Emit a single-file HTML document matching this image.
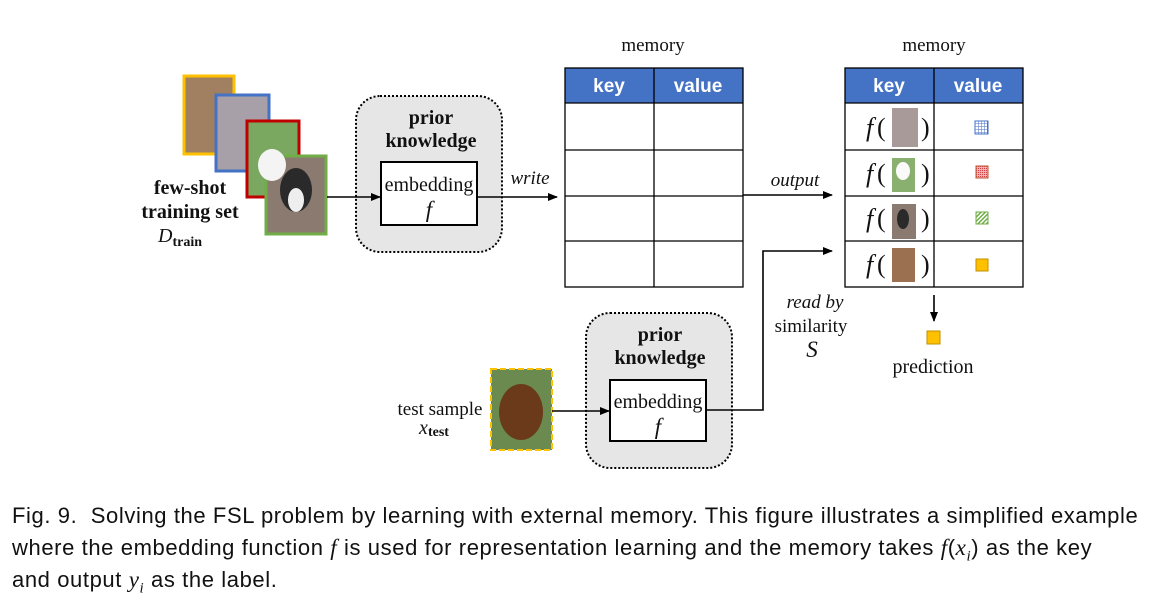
<!DOCTYPE html>
<html><head><meta charset="utf-8"><style>
body{margin:0;background:#fff;width:1160px;height:600px;overflow:hidden}
svg text{font-family:"Liberation Serif",serif;fill:#111}
.cap{position:absolute;left:12px;top:500px;font-family:"Liberation Sans",sans-serif;font-size:22px;letter-spacing:0.6px;line-height:32px;color:#111;width:1150px;white-space:nowrap}
.cap sub{line-height:0;font-size:15px}
.cap i{font-family:"Liberation Serif",serif;font-size:23px}
</style></head><body>
<svg width="1160" height="600" style="position:absolute;left:0;top:0">
<defs>
<marker id="a" markerWidth="10" markerHeight="8" refX="9" refY="4" orient="auto" markerUnits="userSpaceOnUse"><path d="M0,0 L10,4 L0,8 Z" fill="#000"/></marker>
<pattern id="grid" width="3" height="3" patternUnits="userSpaceOnUse"><rect width="3" height="3" fill="#fff"/><path d="M0,0H3M0,0V3" stroke="#4472c4" stroke-width="1"/></pattern>
<pattern id="chk" width="2" height="2" patternUnits="userSpaceOnUse"><rect width="2" height="2" fill="#f4b0b0"/><rect width="1" height="1" fill="#d04040"/></pattern>
<pattern id="dg" width="3" height="3" patternUnits="userSpaceOnUse" patternTransform="rotate(45)"><rect width="3" height="3" fill="#fff"/><rect width="1.5" height="3" fill="#70ad47"/></pattern>
</defs>
<rect x="184" y="76" width="50" height="78" fill="#a08060" stroke="#ffc000" stroke-width="3"/>
<rect x="216" y="95" width="53" height="76" fill="#a8a0a8" stroke="#4472c4" stroke-width="3"/>
<rect x="247" y="121" width="52" height="76" fill="#7aa860" stroke="#c00000" stroke-width="3"/>
<rect x="266" y="156" width="60" height="78" fill="#8a7a70" stroke="#70ad47" stroke-width="3"/>
<ellipse cx="296" cy="190" rx="16" ry="22" fill="#2a2a2a"/><ellipse cx="296" cy="200" rx="8" ry="12" fill="#eee"/>
<ellipse cx="272" cy="165" rx="14" ry="16" fill="#f4f4f4"/>
<text x="190" y="194" font-size="20" font-weight="bold" text-anchor="middle">few-shot</text>
<text x="190" y="218" font-size="20" font-weight="bold" text-anchor="middle">training set</text>
<text x="180" y="242" font-size="20" font-style="italic" text-anchor="middle">D<tspan font-size="14" font-style="normal" font-weight="bold" dy="4">train</tspan></text>
<rect x="356" y="96" width="146" height="156" rx="24" fill="#e6e6e6" stroke="#000" stroke-width="2" stroke-dasharray="2,2"/>
<text x="431" y="124" font-size="20" font-weight="bold" text-anchor="middle">prior</text>
<text x="431" y="147" font-size="20" font-weight="bold" text-anchor="middle">knowledge</text>
<rect x="381" y="162" width="96" height="63" fill="#fff" stroke="#000" stroke-width="2"/>
<text x="429" y="191" font-size="20" text-anchor="middle">embedding</text>
<text x="429" y="217" font-size="23" font-style="italic" text-anchor="middle">f</text>
<line x1="327" y1="197" x2="380" y2="197" stroke="#000" stroke-width="1.6" marker-end="url(#a)"/>
<line x1="477" y1="197" x2="557" y2="197" stroke="#000" stroke-width="1.6" marker-end="url(#a)"/>
<text x="530" y="184" font-size="19" font-style="italic" text-anchor="middle">write</text>
<text x="653" y="51" font-size="19" text-anchor="middle">memory</text>
<rect x="565" y="68" width="178" height="35" fill="#4472c4"/>
<g stroke="#000" stroke-width="1.3" fill="none">
<rect x="565" y="68" width="178" height="219"/>
<line x1="654" y1="68" x2="654" y2="287"/>
<line x1="565" y1="103" x2="743" y2="103"/><line x1="565" y1="150" x2="743" y2="150"/><line x1="565" y1="196" x2="743" y2="196"/><line x1="565" y1="241" x2="743" y2="241"/>
</g>
<text x="609" y="92" font-size="19" font-weight="bold" style="fill:#fff;font-family:'Liberation Sans',sans-serif" text-anchor="middle">key</text>
<text x="698" y="92" font-size="19" font-weight="bold" style="fill:#fff;font-family:'Liberation Sans',sans-serif" text-anchor="middle">value</text>
<line x1="743" y1="195" x2="832" y2="195" stroke="#000" stroke-width="1.6" marker-end="url(#a)"/>
<text x="795" y="186" font-size="19" font-style="italic" text-anchor="middle">output</text>
<text x="934" y="51" font-size="19" text-anchor="middle">memory</text>
<rect x="845" y="68" width="178" height="35" fill="#4472c4"/>
<g stroke="#000" stroke-width="1.3" fill="none">
<rect x="845" y="68" width="178" height="219"/>
<line x1="934" y1="68" x2="934" y2="287"/>
<line x1="845" y1="103" x2="1023" y2="103"/><line x1="845" y1="150" x2="1023" y2="150"/><line x1="845" y1="196" x2="1023" y2="196"/><line x1="845" y1="241" x2="1023" y2="241"/>
</g>
<text x="889" y="92" font-size="19" font-weight="bold" style="fill:#fff;font-family:'Liberation Sans',sans-serif" text-anchor="middle">key</text>
<text x="978" y="92" font-size="19" font-weight="bold" style="fill:#fff;font-family:'Liberation Sans',sans-serif" text-anchor="middle">value</text>
<g font-size="26">
<text x="866" y="136" font-style="italic">f</text><text x="877" y="136">(</text><text x="921" y="136">)</text>
<text x="866" y="182" font-style="italic">f</text><text x="877" y="182">(</text><text x="921" y="182">)</text>
<text x="866" y="227" font-style="italic">f</text><text x="877" y="227">(</text><text x="921" y="227">)</text>
<text x="866" y="273" font-style="italic">f</text><text x="877" y="273">(</text><text x="921" y="273">)</text>
</g>
<rect x="892" y="108" width="26" height="39" fill="#a89a98"/>
<rect x="892" y="158" width="23" height="34" fill="#8ab070"/><ellipse cx="903" cy="171" rx="7" ry="9" fill="#fafafa"/>
<rect x="892" y="204" width="24" height="35" fill="#8a7a70"/><ellipse cx="903" cy="219" rx="6" ry="10" fill="#2a2a2a"/>
<rect x="892" y="248" width="23" height="34" fill="#9a7050"/>
<rect x="975" y="121" width="13" height="13" fill="url(#grid)" stroke="#4472c4"/>
<rect x="976" y="166" width="12" height="12" fill="url(#chk)" stroke="#c05030"/>
<rect x="976" y="212" width="12" height="12" fill="url(#dg)" stroke="#70ad47"/>
<rect x="976" y="259" width="12" height="12" fill="#ffc000" stroke="#c09000"/>
<line x1="934" y1="295" x2="934" y2="321" stroke="#000" stroke-width="1.6" marker-end="url(#a)"/>
<rect x="927" y="331" width="13" height="13" fill="#ffc000" stroke="#c09000"/>
<text x="933" y="373" font-size="20" text-anchor="middle">prediction</text>
<rect x="491" y="369" width="61" height="81" fill="#6a8a50" stroke="#ffc000" stroke-width="2" stroke-dasharray="6,3"/>
<ellipse cx="521" cy="412" rx="22" ry="28" fill="#6a3a1a"/>
<text x="440" y="415" font-size="19" text-anchor="middle">test sample</text>
<text x="434" y="434" font-size="20" font-style="italic" text-anchor="middle">x<tspan font-size="14" font-weight="bold" font-style="normal" dy="2">test</tspan></text>
<rect x="586" y="313" width="146" height="155" rx="24" fill="#e6e6e6" stroke="#000" stroke-width="2" stroke-dasharray="2,2"/>
<text x="660" y="341" font-size="20" font-weight="bold" text-anchor="middle">prior</text>
<text x="660" y="364" font-size="20" font-weight="bold" text-anchor="middle">knowledge</text>
<rect x="610" y="380" width="96" height="61" fill="#fff" stroke="#000" stroke-width="2"/>
<text x="658" y="408" font-size="20" text-anchor="middle">embedding</text>
<text x="658" y="434" font-size="23" font-style="italic" text-anchor="middle">f</text>
<line x1="552" y1="411" x2="609" y2="411" stroke="#000" stroke-width="1.6" marker-end="url(#a)"/>
<polyline points="706,410 763,410 763,251 832,251" fill="none" stroke="#000" stroke-width="1.6" marker-end="url(#a)"/>
<text x="815" y="308" font-size="19" font-style="italic" text-anchor="middle">read by</text>
<text x="811" y="332" font-size="19" text-anchor="middle">similarity</text>
<text x="812" y="357" font-size="23" font-style="italic" text-anchor="middle">S</text>
</svg>
<div class="cap">Fig. 9.&nbsp; Solving the FSL problem by learning with external memory. This figure illustrates a simplified example<br>where the embedding function <i>f</i> is used for representation learning and the memory takes <i>f</i>(<i>x<sub>i</sub></i>) as the key<br>and output <i>y<sub>i</sub></i> as the label.</div>
</body></html>
